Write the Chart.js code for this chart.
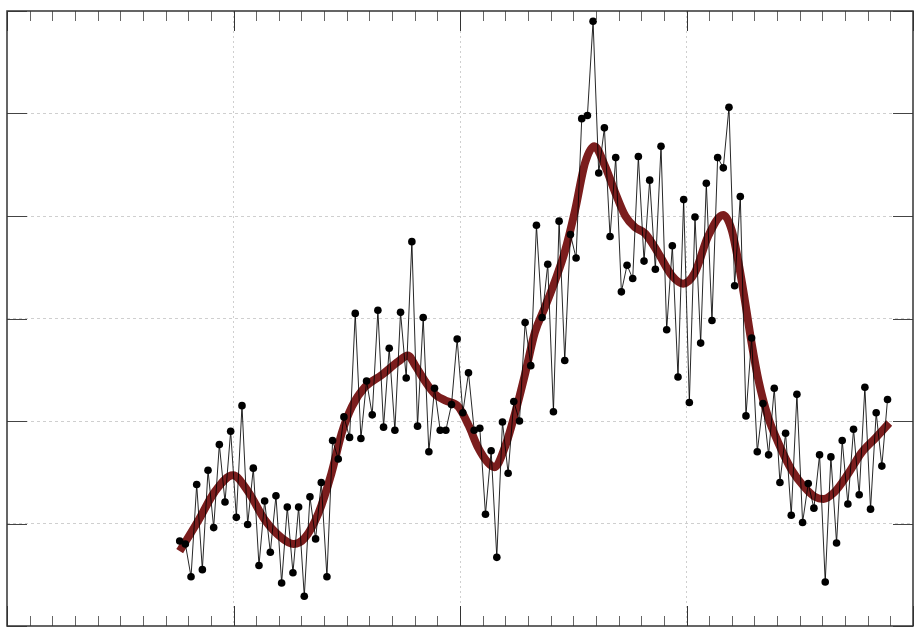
<!DOCTYPE html>
<html>
<head>
<meta charset="utf-8">
<script src="https://cdn.jsdelivr.net/npm/chart.js@4/dist/chart.umd.min.js"></script>
<style>
  html, body { margin: 0; padding: 0; background: #fff; }
  #wrap { width: 917px; height: 632px; }
</style>
</head>
<body>
<div id="wrap"><canvas id="chart" width="917" height="632"></canvas></div>
<script>
// yearly values (plotted at mid-year)
const years = [
  1880, 1881, 1882, 1883, 1884, 1885, 1886, 1887, 1888, 1889, 1890, 1891, 1892, 1893, 1894, 1895, 1896, 1897, 1898, 1899,
  1900, 1901, 1902, 1903, 1904, 1905, 1906, 1907, 1908, 1909, 1910, 1911, 1912, 1913, 1914, 1915, 1916, 1917, 1918, 1919,
  1920, 1921, 1922, 1923, 1924, 1925, 1926, 1927, 1928, 1929, 1930, 1931, 1932, 1933, 1934, 1935, 1936, 1937, 1938, 1939,
  1940, 1941, 1942, 1943, 1944, 1945, 1946, 1947, 1948, 1949, 1950, 1951, 1952, 1953, 1954, 1955, 1956, 1957, 1958, 1959,
  1960, 1961, 1962, 1963, 1964, 1965, 1966, 1967, 1968, 1969, 1970, 1971, 1972, 1973, 1974, 1975, 1976, 1977, 1978, 1979,
  1980, 1981, 1982, 1983, 1984, 1985, 1986, 1987, 1988, 1989, 1990, 1991, 1992, 1993, 1994, 1995, 1996, 1997, 1998, 1999,
  2000, 2001, 2002, 2003, 2004, 2005
];
const values = [
  0.83, 0.80, 0.48, 1.38, 0.55, 1.52, 0.96, 1.77, 1.21, 1.90, 1.06, 2.15, 0.99, 1.54, 0.59, 1.22, 0.72, 1.27, 0.42, 1.16,
  0.52, 1.16, 0.29, 1.26, 0.85, 1.40, 0.48, 1.81, 1.63, 2.04, 1.84, 3.05, 1.83, 2.39, 2.06, 3.08, 1.94, 2.71, 1.91, 3.06,
  2.42, 3.75, 1.95, 3.01, 1.70, 2.32, 1.91, 1.91, 2.16, 2.80, 2.08, 2.47, 1.91, 1.93, 1.09, 1.71, 0.67, 1.99, 1.49, 2.19,
  2.00, 2.96, 2.54, 3.91, 3.01, 3.53, 2.09, 3.95, 2.59, 3.82, 3.59, 4.95, 4.98, 5.90, 4.42, 4.86, 3.80, 4.57, 3.26, 3.52,
  3.39, 4.58, 3.56, 4.35, 3.48, 4.68, 2.89, 3.71, 2.43, 4.16, 2.18, 3.99, 2.76, 4.32, 2.98, 4.57, 4.47, 5.06, 3.32, 4.19,
  2.05, 2.81, 1.70, 2.17, 1.67, 2.32, 1.40, 1.88, 1.08, 2.26, 1.01, 1.39, 1.15, 1.67, 0.43, 1.65, 0.81, 1.81, 1.19, 1.92,
  1.28, 2.33, 1.14, 2.08, 1.56, 2.21
];

// smoothed curve, read at these positions
const smoothYears = [
  1880.5, 1883.8, 1886.7, 1889.9, 1892.6, 1895.6, 1898.5, 1900.6, 1902.6, 1905.0, 1907.3, 1909.1, 1910.9, 1913.2, 1916.2,
  1919.1, 1920.8, 1922.1, 1923.8, 1925.6, 1927.4, 1929.7, 1931.5, 1933.2, 1935.0, 1936.1, 1937.9, 1939.7, 1941.5, 1943.2,
  1945.0, 1946.8, 1948.5, 1950.3, 1952.1, 1953.7, 1955.6, 1957.4, 1959.2, 1960.9, 1962.7, 1965.0, 1967.4, 1969.4, 1971.5,
  1973.8, 1976.5, 1978.0, 1979.1, 1980.3, 1981.5, 1982.7, 1984.4, 1986.2, 1988.6, 1990.9, 1992.7, 1994.2, 1996.2, 1998.6,
  2000.9, 2003.3, 2005.8
];
const smoothValues = [
  0.73, 1.03, 1.31, 1.47, 1.31, 1.03, 0.86, 0.80, 0.86, 1.10, 1.49, 1.88, 2.14, 2.33, 2.45,
  2.58, 2.64, 2.54, 2.39, 2.26, 2.20, 2.14, 1.96, 1.74, 1.59, 1.55, 1.74, 2.07, 2.46, 2.86,
  3.11, 3.37, 3.65, 4.05, 4.52, 4.68, 4.49, 4.23, 4.00, 3.89, 3.83, 3.64, 3.42, 3.34, 3.45,
  3.80, 4.01, 3.86, 3.57, 3.18, 2.76, 2.40, 2.04, 1.79, 1.52, 1.35, 1.26, 1.24, 1.31, 1.49,
  1.69, 1.83, 1.98
];

const xTicks = [1850, 1890, 1930, 1970, 2010];
const yTicks = [0, 1, 2, 3, 4, 5, 6];
const minorStep = 4;

const points = years.map((yr, i) => ({ x: yr + 0.5, y: values[i] }));
const smooth = smoothYears.map((yr, i) => ({ x: yr, y: smoothValues[i] }));

// inward ticks on all four sides plus the frame
const frameTicks = {
  id: 'frameTicks',
  afterDraw(chart) {
    const { ctx, chartArea: a, scales: { x, y } } = chart;
    ctx.save();
    ctx.lineWidth = 1;
    for (let yr = xTicks[0]; yr <= xTicks[xTicks.length - 1]; yr += minorStep) {
      const px = Math.round(x.getPixelForValue(yr)) + 0.5;
      const major = xTicks.includes(yr);
      const len = major ? 20 : 10;
      ctx.strokeStyle = major ? '#333' : '#666';
      ctx.beginPath();
      ctx.moveTo(px, a.bottom); ctx.lineTo(px, a.bottom - len);
      ctx.moveTo(px, a.top); ctx.lineTo(px, a.top + len);
      ctx.stroke();
    }
    ctx.strokeStyle = '#444';
    yTicks.forEach(v => {
      const py = Math.round(y.getPixelForValue(v)) + 0.5;
      ctx.beginPath();
      ctx.moveTo(a.left, py); ctx.lineTo(a.left + 20, py);
      ctx.moveTo(a.right, py); ctx.lineTo(a.right - 20, py);
      ctx.stroke();
    });
    ctx.strokeStyle = '#333';
    ctx.lineWidth = 1.5;
    ctx.strokeRect(a.left, a.top, a.right - a.left, a.bottom - a.top);
    ctx.restore();
  }
};

const gridColor = (ticks) => (c) => {
  const v = c.tick && c.tick.value;
  return (v === ticks[0] || v === ticks[ticks.length - 1]) ? 'rgba(0,0,0,0)' : '#cfcfcf';
};

new Chart(document.getElementById('chart'), {
  type: 'scatter',
  data: {
    datasets: [
      {
        label: 'annual',
        data: points,
        showLine: true,
        borderColor: 'rgba(0,0,0,0.85)',
        borderWidth: 1,
        pointRadius: 3.8,
        pointBackgroundColor: '#000',
        pointBorderWidth: 0,
        tension: 0
      },
      {
        label: 'smoothed',
        data: smooth,
        showLine: true,
        borderColor: '#7b1d1d',
        borderWidth: 8,
        borderCapStyle: 'butt',
        borderJoinStyle: 'round',
        pointRadius: 0,
        cubicInterpolationMode: 'monotone'
      }
    ]
  },
  options: {
    responsive: false,
    devicePixelRatio: 1,
    animation: false,
    layout: { padding: { left: 7, top: 11, right: 4, bottom: 6 } },
    plugins: { legend: { display: false }, tooltip: { enabled: false } },
    scales: {
      x: {
        type: 'linear',
        min: 1850,
        max: 2010,
        afterBuildTicks: axis => { axis.ticks = xTicks.map(v => ({ value: v })); },
        ticks: { display: false },
        grid: { color: gridColor(xTicks), drawTicks: false, lineWidth: 1 },
        border: { display: false, dash: [2, 3] }
      },
      y: {
        min: 0,
        max: 6,
        afterBuildTicks: axis => { axis.ticks = yTicks.map(v => ({ value: v })); },
        ticks: { display: false },
        grid: { color: gridColor(yTicks), drawTicks: false, lineWidth: 1 },
        border: { display: false, dash: [3, 3] }
      }
    }
  },
  plugins: [frameTicks]
});
</script>
</body>
</html>
